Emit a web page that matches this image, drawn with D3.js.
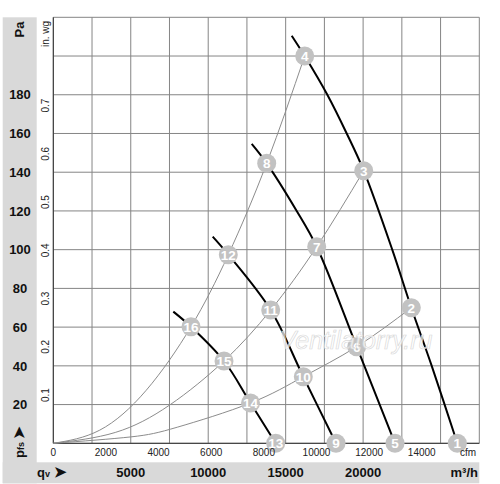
<!DOCTYPE html>
<html><head><meta charset="utf-8">
<script src="https://cdn.jsdelivr.net/npm/d3@7"></script>
<style>body{margin:0;background:#fff}svg{display:block}text{font-family:"Liberation Sans",Arial,sans-serif}</style>
</head><body>
<svg id="c" width="500" height="484"></svg>
<script>
// ---- data ----
const xGridM3h = d3.range(0, 27501, 2500);
const yGridPa = d3.range(0, 221, 20);
const paTicks = [20, 40, 60, 80, 100, 120, 140, 160, 180];
const inwgTicks = [0.1, 0.2, 0.3, 0.4, 0.5, 0.6, 0.7];
const cfmTicks = [0, 2000, 4000, 6000, 8000, 10000, 12000, 14000];
const m3hTicks = [5000, 10000, 15000, 20000];
// fan curves [m3/h, Pa]
const fanA = [[15391,210.5],[16230,200],[17690,180],[18941,160],[20039,140.8],[21880,100],[23112,70],[24428,40],[26081,0]];
const fanB = [[12808,154.6],[13776,144.6],[15713,120],[17004,101.5],[19587,49.9],[22059,0]];
const fanC = [[10290,106.7],[11297,97.4],[14035,68.8],[16139,34.4],[18250,0]];
const fanD = [[7747,68.0],[8890,60.2],[11020,42.5],[12731,20.8],[14357,0]];
// system curves [m3/h, Pa]
const sys1 = [[0,0],[5000,3.3],[8000,8.3],[12731,20.8],[16139,34.4],[19587,49.9],[23112,70]];
const sys2 = [[0,0],[4000,5.6],[7500,19.7],[11020,42.5],[14035,68.8],[17004,101.5],[20039,140.8]];
const sys3 = [[0,0],[3000,6.8],[6000,27.4],[8890,60.2],[11297,97.4],[13776,144.6],[16230,200]];
// numbered operating points
const pointIds = [1,2,3,4,5,6,7,8,9,10,11,12,13,14,15,16];
const pointQ  = [26081,23112,20039,16230,22059,19587,17004,13776,18250,16139,14035,11297,14357,12731,11020,8890];
const pointPa = [0,70,140.8,200,0,49.9,101.5,144.6,0,34.4,68.8,97.4,0,20.8,42.5,60.2];

// ---- layout ----
const L = 53.3, R = 479.3, T = 17.3, B = 443.3;
const PA_PER_INWG = 249.089, M3H_PER_CFM = 1.69901;
const x = d3.scaleLinear().domain([0, 27500]).range([L, R]);
const y = d3.scaleLinear().domain([0, 220]).range([B, T]);
const xc = d3.scaleLinear().domain([0, 27500 / M3H_PER_CFM]).range([L, R]);
const yi = d3.scaleLinear().domain([0, 220 / PA_PER_INWG]).range([B, T]);

const svg = d3.select("#c");
const grey = "#d9d9d9";
// gray panels
svg.append("rect").attr("x", 2.7).attr("y", T).attr("width", 34).attr("height", 483.3 - T).attr("fill", grey);
svg.append("rect").attr("x", 2.7).attr("y", 462.3).attr("width", R - 2.7).attr("height", 21).attr("fill", grey);

// grid
const g = svg.append("g");
g.selectAll(".vx").data(xGridM3h).join("line")
  .attr("x1", d => x(d)).attr("x2", d => x(d)).attr("y1", T).attr("y2", B)
  .attr("stroke", "#858585").attr("stroke-width", 1);
g.selectAll(".hy").data(yGridPa).join("line")
  .attr("y1", d => y(d)).attr("y2", d => y(d)).attr("x1", L).attr("x2", R)
  .attr("stroke", "#858585").attr("stroke-width", 1);
// axes lines
svg.append("line").attr("x1", L).attr("x2", L).attr("y1", T).attr("y2", B).attr("stroke", "#333");
svg.append("line").attr("x1", L).attr("x2", R).attr("y1", B).attr("y2", B).attr("stroke", "#333");

// system curves
const line = d3.line().x(d => x(d[0])).y(d => y(d[1]));
[sys1, sys2, sys3].forEach(s => {
  svg.append("path").attr("d", line.curve(d3.curveNatural)(s))
    .attr("fill", "none").attr("stroke", "#8c8c8c").attr("stroke-width", 1);
});
// fan curves
[fanA, fanB, fanC, fanD].forEach(s => {
  svg.append("path").attr("d", line.curve(d3.curveCatmullRom.alpha(0.5))(s))
    .attr("fill", "none").attr("stroke", "#000").attr("stroke-width", 2);
});

// points
const pts = pointIds.map((id, i) => ({id, q: pointQ[i], p: pointPa[i]}));
const pg = svg.selectAll(".pt").data(pts).join("g").attr("transform", d => `translate(${x(d.q)},${y(d.p)})`);
pg.append("circle").attr("r", 9.5).attr("fill", "#c2c2c2");
pg.append("text").attr("text-anchor", "middle").attr("dy", "0.36em").attr("font-size", 13.5)
  .attr("font-weight", "bold").attr("fill", "#fff").text(d => d.id);

// watermark (on top, semi-transparent)
svg.append("text").attr("x", x(19540)).attr("y", 349).attr("text-anchor", "middle")
  .attr("font-size", 25).attr("font-style", "italic").attr("fill", "#ffffff").attr("fill-opacity", 0.7)
  .attr("stroke", "#cfcfcf").attr("stroke-width", 0.7).attr("stroke-opacity", 0.8).text("Ventilatorry.ru");

// Pa labels
svg.selectAll(".pal").data(paTicks).join("text")
  .attr("x", 20).attr("y", d => y(d)).attr("dy", "0.36em").attr("text-anchor", "middle")
  .attr("font-size", 13).attr("font-weight", "bold").attr("fill", "#111").text(d => d);
svg.append("text").attr("transform", "translate(24,29.5) rotate(-90)").attr("text-anchor", "middle")
  .attr("font-size", 13).attr("font-weight", "bold").attr("fill", "#111").text("Pa");
// in. wg labels
svg.selectAll(".iwl").data(inwgTicks).join("text")
  .attr("transform", d => `translate(49,${yi(d)}) rotate(-90)`).attr("text-anchor", "middle")
  .attr("font-size", 10).attr("fill", "#222").text(d => d);
svg.append("text").attr("transform", "translate(49,34) rotate(-90)").attr("text-anchor", "middle")
  .attr("font-size", 10).attr("fill", "#222").text("in. wg");
// cfm labels
svg.selectAll(".cfl").data(cfmTicks).join("text")
  .attr("x", d => xc(d)).attr("y", 455.5).attr("text-anchor", "middle")
  .attr("font-size", 10).attr("fill", "#222").text(d => d);
svg.append("text").attr("x", 468).attr("y", 455.5).attr("text-anchor", "middle")
  .attr("font-size", 10).attr("fill", "#222").text("cfm");
// m3/h labels
svg.selectAll(".mhl").data(m3hTicks).join("text")
  .attr("x", d => x(d)).attr("y", 476.5).attr("text-anchor", "middle")
  .attr("font-size", 13).attr("font-weight", "bold").attr("fill", "#111").text(d => d);
svg.append("text").attr("x", 478).attr("y", 476.5).attr("text-anchor", "end")
  .attr("font-size", 13).attr("font-weight", "bold").attr("fill", "#111").text("m³/h");
// qv
const qv = svg.append("text").attr("x", 37).attr("y", 476.5).attr("font-size", 13).attr("font-weight", "bold").attr("fill", "#111");
qv.append("tspan").text("q");
qv.append("tspan").attr("font-size", 9).text("v");
qv.append("tspan").attr("dx", 4).attr("font-size", 15).text("➤");
// pfs
const pf = svg.append("text").attr("transform", "translate(24,458) rotate(-90)").attr("font-size", 13).attr("font-weight", "bold").attr("fill", "#111");
pf.append("tspan").text("p");
pf.append("tspan").attr("font-size", 9).text("fs");
pf.append("tspan").attr("dx", 3).attr("font-size", 15).text("➤");
</script>
</body></html>
